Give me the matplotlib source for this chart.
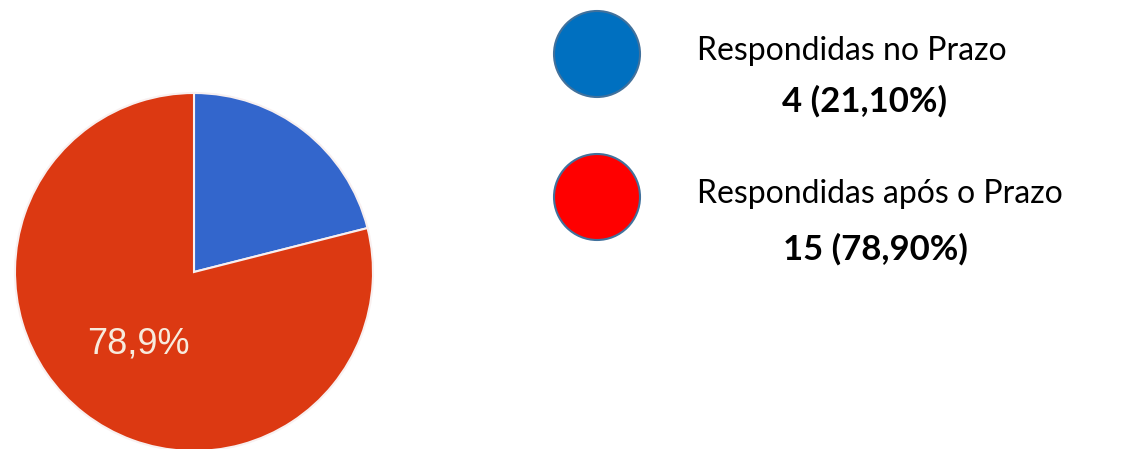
import matplotlib.pyplot as plt
from matplotlib.patches import Circle

# dados
categorias = ['Respondidas no Prazo', 'Respondidas após o Prazo']
quantidades = [4, 15]
percentuais = ['21,10%', '78,90%']
cores_pizza = ['#3366CC', '#DC3912']
cores_legenda = ['#0070C0', '#FF0000']

W, H = 1128, 449
fig = plt.figure(figsize=(W / 100, H / 100), dpi=100)
ax = fig.add_axes([0, 0, 1, 1])


def rotulo(p):
    # só a fatia maior recebe rótulo, como no original
    return f'{p:.1f}%'.replace('.', ',') if p > 50 else ''


wedges, textos, autotextos = ax.pie(
    quantidades, colors=cores_pizza, startangle=90, counterclock=False,
    center=(194, H - 272), radius=179, autopct=rotulo, pctdistance=0.51,
    wedgeprops=dict(edgecolor='#F8F0F0', linewidth=1.5),
    textprops=dict(color='#F7EBDD', fontsize=26, family='Liberation Sans'))

# legenda manual: círculo + texto
for i, cat in enumerate(categorias):
    y = H - (54 + i * 143)
    ax.add_patch(Circle((597, y), 43, facecolor=cores_legenda[i],
                        edgecolor='#41719C', linewidth=1.5))
    ax.text(697, y + 3, cat, fontsize=23, family='Lato', va='center', ha='left')

for i, (q, pct) in enumerate(zip(quantidades, percentuais)):
    cx = [864, 875][i]
    y = H - (101 + i * 148)
    ax.text(cx, y, f'{q} ({pct})', fontsize=25, family='Lato', fontweight='bold',
            va='center', ha='center')

ax.set_xlim(0, W)
ax.set_ylim(0, H)
ax.set_aspect('equal')
ax.axis('off')

fig.savefig('out.png', dpi=100)
